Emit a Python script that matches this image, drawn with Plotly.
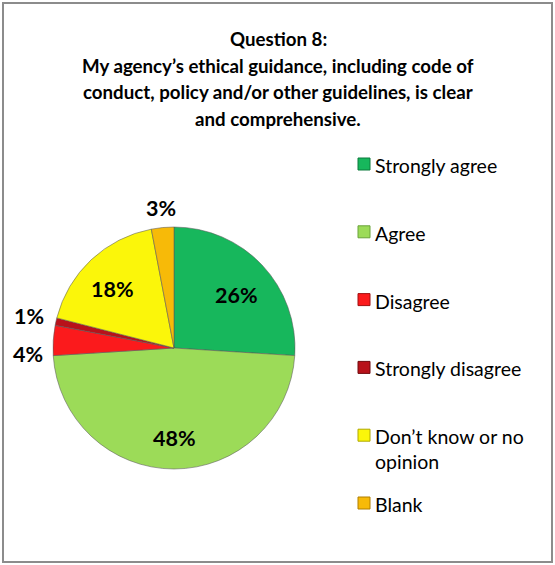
import math
import plotly.graph_objects as go

# Survey responses, question 8
categories = ["Strongly agree", "Agree", "Disagree", "Strongly disagree",
              "Don\u2019t know or no opinion", "Blank"]
legend_text = ["Strongly agree", "Agree", "Disagree", "Strongly disagree",
               "Don\u2019t know or no<br>opinion", "Blank"]
percent = [26, 48, 4, 1, 18, 3]

colors = ["#17b75c", "#9cdb58", "#fb1a1c", "#b8121a", "#fbf60a", "#f7ba08"]
edge_colors = ["#0d7a3c", "#6aa33a", "#a01010", "#700a0e", "#b0a800", "#b07f00"]

W, H = 555, 565
FONT = "Lato"

# pie placement in pixels
cx, cy, r = 174, 348, 121

# label placement: radius factor and small angular nudge (degrees) per slice
lab_rad = [0.68, 0.74, 1.21, 1.23, 0.70, 1.16]
lab_nudge = [3, 0, -6, 0, -3, 0]


def px(x):
    return x / W


def py(y):
    return 1 - y / H


fig = go.Figure()
fig.add_trace(go.Pie(
    labels=categories,
    values=percent,
    sort=False,
    direction="clockwise",
    rotation=0,
    textinfo="none",
    hoverinfo="label+percent",
    showlegend=False,
    marker=dict(colors=colors, line=dict(color="rgba(90,90,90,0.55)", width=1)),
    domain=dict(x=[px(cx - r), px(cx + r)], y=[py(cy + r), py(cy - r)]),
))

annotations = []
shapes = []

# percentage labels on / beside each slice
total = sum(percent)
start = 0.0
for i, v in enumerate(percent):
    span = 360.0 * v / total
    mid = math.radians(start + span / 2 + lab_nudge[i])
    d = r * lab_rad[i]
    lx = cx + d * math.sin(mid)
    ly = cy - d * math.cos(mid)
    annotations.append(dict(
        x=px(lx), y=py(ly), xref="paper", yref="paper",
        text=f"<b>{v}%</b>", showarrow=False,
        xanchor="center", yanchor="middle",
        font=dict(family=FONT, size=21.5, color="#000000"),
    ))
    start += span

# title
title_lines = [
    "Question 8:",
    "My agency\u2019s ethical guidance, including code of",
    "conduct, policy and/or other guidelines, is clear",
    "and comprehensive.",
]
for k, line in enumerate(title_lines):
    annotations.append(dict(
        x=px(278), y=py(39 + 26.7 * k), xref="paper", yref="paper",
        text=f"<b>{line}</b>", showarrow=False,
        xanchor="center", yanchor="middle",
        font=dict(family=FONT, size=18.7, color="#000000"),
    ))

# legend
leg_x, leg_y0, leg_step, box = 358, 164, 67.8, 12
for i, name in enumerate(legend_text):
    yy = leg_y0 + leg_step * i
    shapes.append(dict(
        type="rect", xref="paper", yref="paper",
        x0=px(leg_x), x1=px(leg_x + box),
        y0=py(yy + box / 2), y1=py(yy - box / 2),
        fillcolor=colors[i], line=dict(color=edge_colors[i], width=1),
    ))
    annotations.append(dict(
        x=px(leg_x + box + 3), y=py(yy - 12), xref="paper", yref="paper",
        text=name, showarrow=False, align="left",
        xanchor="left", yanchor="top",
        font=dict(family=FONT, size=19.5, color="#000000"),
    ))

# chart frame
shapes.append(dict(
    type="rect", xref="paper", yref="paper",
    x0=px(3), x1=px(552), y0=py(562), y1=py(3),
    line=dict(color="#8c8c8c", width=2), fillcolor="rgba(0,0,0,0)",
    layer="below",
))

fig.update_layout(
    width=W, height=H,
    margin=dict(l=0, r=0, t=0, b=0),
    paper_bgcolor="#ffffff",
    plot_bgcolor="#ffffff",
    annotations=annotations,
    shapes=shapes,
    showlegend=False,
)

fig.write_html("out.html")
